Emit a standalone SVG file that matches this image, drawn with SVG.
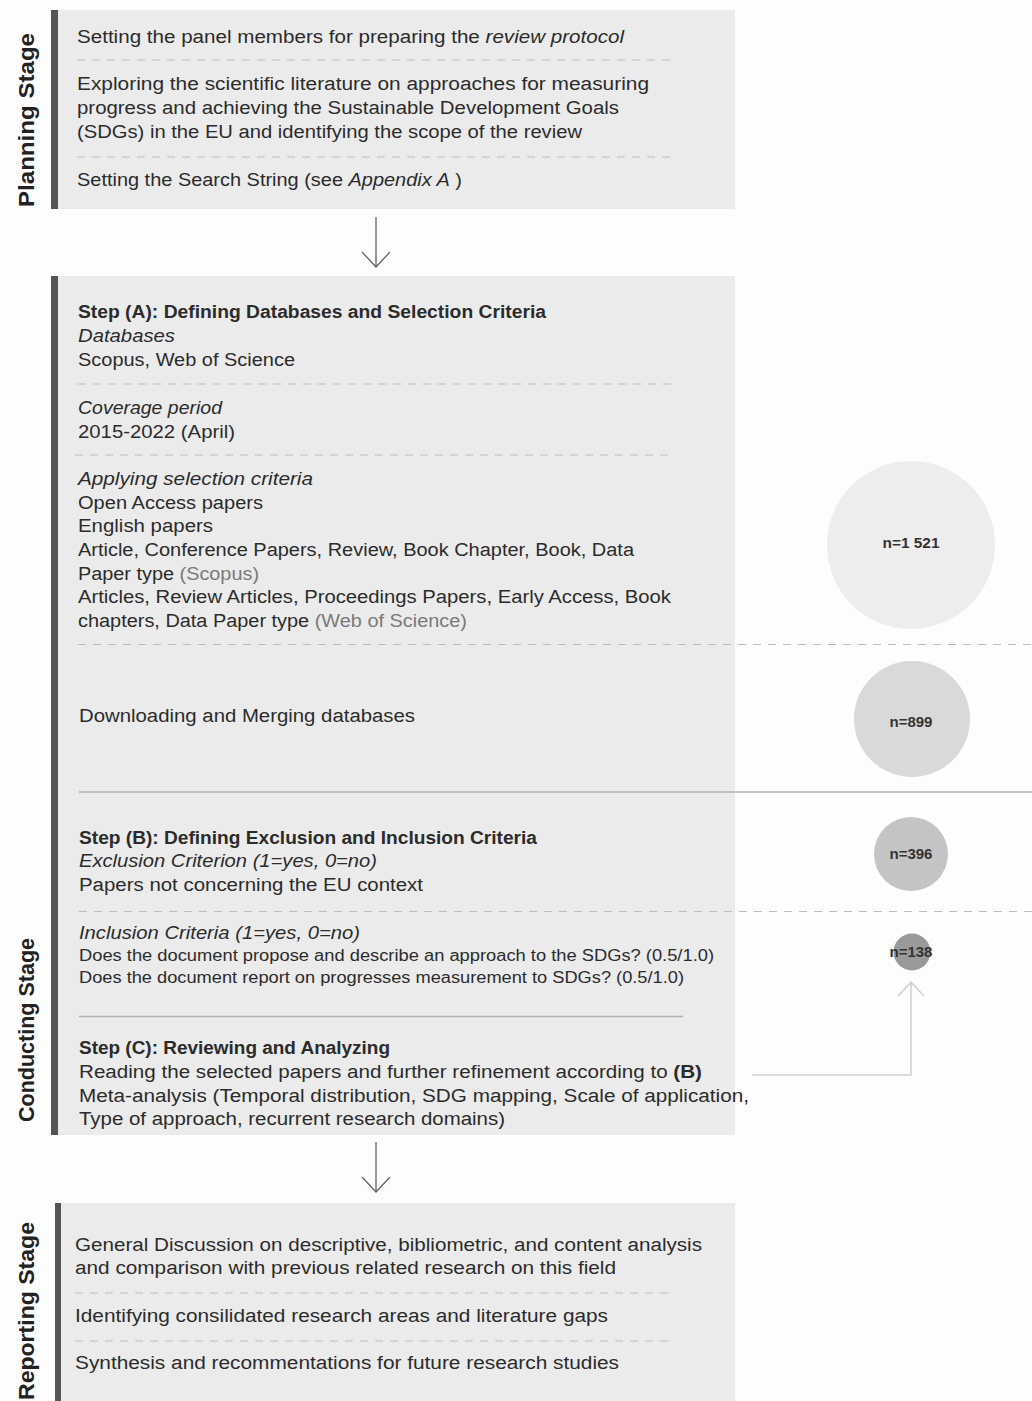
<svg xmlns="http://www.w3.org/2000/svg" width="1032" height="1401" viewBox="0 0 1032 1401">
<defs>
<style>
.bg{fill:#fdfdfd}
.box{fill:#ebebeb}
.bar{fill:#555555}
.t{font-family:"Liberation Sans",Arial,sans-serif;font-size:18px;fill:#2b2b2b}
.s{font-size:16px}
.b{font-weight:bold}
.i{font-style:italic}
.g{fill:#7a7a7a}
.lbl{font-family:"Liberation Sans",Arial,sans-serif;font-size:22px;font-weight:bold;fill:#222}
.dash{stroke:#bdbdbd;stroke-width:1.2;stroke-dasharray:8 7;fill:none}
.solid{stroke:#b0b0b0;stroke-width:1.5;fill:none}
.arr{stroke:#666;stroke-width:1.3;fill:none}
.conn{stroke:#cfcfcf;stroke-width:1.5;fill:none}
.n{font-family:"Liberation Sans",Arial,sans-serif;font-size:15px;font-weight:bold;fill:#333;text-anchor:middle}
</style>
</defs>
<rect class="bg" x="0" y="0" width="1032" height="1401"/>

<g id="planning">
<rect class="box" x="51" y="10" width="684" height="199"/>
<rect class="bar" x="51" y="10" width="7" height="199"/>
<text class="lbl" transform="translate(34,207) rotate(-90)" textLength="174" lengthAdjust="spacingAndGlyphs">Planning Stage</text>
<text class="t" x="77" y="43" textLength="547" lengthAdjust="spacingAndGlyphs">Setting the panel members for preparing the <tspan class="i">review protocol</tspan></text>
<line class="dash" x1="77" y1="60" x2="676" y2="60"/>
<text class="t" x="77" y="90" textLength="572" lengthAdjust="spacingAndGlyphs">Exploring the scientific literature on approaches for measuring</text>
<text class="t" x="77" y="114" textLength="542" lengthAdjust="spacingAndGlyphs">progress and achieving the Sustainable Development Goals</text>
<text class="t" x="77" y="138" textLength="505" lengthAdjust="spacingAndGlyphs">(SDGs) in the EU and identifying the scope of the review</text>
<line class="dash" x1="77" y1="157" x2="676" y2="157"/>
<text class="t" x="77" y="186" textLength="385" lengthAdjust="spacingAndGlyphs">Setting the Search String (see <tspan class="i">Appendix A</tspan> )</text>
</g>

<g id="conducting">
<rect class="box" x="51" y="276" width="684" height="859"/>
<rect class="bar" x="51" y="276" width="7" height="859"/>
<text class="lbl" transform="translate(34,1122) rotate(-90)" textLength="184" lengthAdjust="spacingAndGlyphs">Conducting Stage</text>
<text class="t b" x="78" y="318" textLength="468" lengthAdjust="spacingAndGlyphs">Step (A): Defining Databases and Selection Criteria</text>
<text class="t i" x="78" y="342" textLength="97" lengthAdjust="spacingAndGlyphs">Databases</text>
<text class="t" x="78" y="366" textLength="217" lengthAdjust="spacingAndGlyphs">Scopus, Web of Science</text>
<line class="dash" x1="78" y1="384" x2="677" y2="384"/>
<text class="t i" x="78" y="414" textLength="144" lengthAdjust="spacingAndGlyphs">Coverage period</text>
<text class="t" x="78" y="438" textLength="157" lengthAdjust="spacingAndGlyphs">2015-2022 (April)</text>
<line class="dash" x1="75" y1="455" x2="673" y2="455"/>
<text class="t i" x="78" y="485" textLength="235" lengthAdjust="spacingAndGlyphs">Applying selection criteria</text>
<text class="t" x="78" y="509" textLength="185" lengthAdjust="spacingAndGlyphs">Open Access papers</text>
<text class="t" x="78" y="532" textLength="135" lengthAdjust="spacingAndGlyphs">English papers</text>
<text class="t" x="78" y="556" textLength="556" lengthAdjust="spacingAndGlyphs">Article, Conference Papers, Review, Book Chapter, Book, Data</text>
<text class="t" x="78" y="580" textLength="181" lengthAdjust="spacingAndGlyphs">Paper type <tspan class="g">(Scopus)</tspan></text>
<text class="t" x="78" y="603" textLength="593" lengthAdjust="spacingAndGlyphs">Articles, Review Articles, Proceedings Papers, Early Access, Book</text>
<text class="t" x="78" y="627" textLength="389" lengthAdjust="spacingAndGlyphs">chapters, Data Paper type <tspan class="g">(Web of Science)</tspan></text>
<text class="t" x="79" y="722" textLength="336" lengthAdjust="spacingAndGlyphs">Downloading and Merging databases</text>
<text class="t b" x="79" y="844" textLength="458" lengthAdjust="spacingAndGlyphs">Step (B): Defining Exclusion and Inclusion Criteria</text>
<text class="t i" x="79" y="867" textLength="298" lengthAdjust="spacingAndGlyphs">Exclusion Criterion (1=yes, 0=no)</text>
<text class="t" x="79" y="891" textLength="344" lengthAdjust="spacingAndGlyphs">Papers not concerning the EU context</text>
<text class="t i" x="79" y="939" textLength="281" lengthAdjust="spacingAndGlyphs">Inclusion Criteria (1=yes, 0=no)</text>
<text class="t s" x="79" y="961" textLength="635" lengthAdjust="spacingAndGlyphs">Does the document propose and describe an approach to the SDGs?  (0.5/1.0)</text>
<text class="t s" x="79" y="983" textLength="605" lengthAdjust="spacingAndGlyphs">Does the document report on progresses measurement to SDGs? (0.5/1.0)</text>
<line class="solid" x1="79" y1="1016.500" x2="683" y2="1016.500"/>
<text class="t b" x="79" y="1054" textLength="311" lengthAdjust="spacingAndGlyphs">Step (C): Reviewing and Analyzing</text>
<text class="t" x="79" y="1078" textLength="623" lengthAdjust="spacingAndGlyphs">Reading the selected papers and further refinement according to <tspan class="b">(B)</tspan></text>
<text class="t" x="79" y="1102" textLength="670" lengthAdjust="spacingAndGlyphs">Meta-analysis (Temporal distribution, SDG mapping, Scale of application,</text>
<text class="t" x="79" y="1125" textLength="426" lengthAdjust="spacingAndGlyphs">Type of approach, recurrent research domains)</text>
</g>

<g id="reporting">
<rect class="box" x="55" y="1203" width="680" height="198"/>
<rect class="bar" x="55" y="1203" width="6" height="198"/>
<text class="lbl" transform="translate(34,1400) rotate(-90)" textLength="178" lengthAdjust="spacingAndGlyphs">Reporting Stage</text>
<text class="t" x="75" y="1251" textLength="627" lengthAdjust="spacingAndGlyphs">General Discussion on descriptive, bibliometric, and content analysis</text>
<text class="t" x="75" y="1274" textLength="541" lengthAdjust="spacingAndGlyphs">and comparison with previous related research on this field</text>
<line class="dash" x1="75" y1="1293" x2="675" y2="1293"/>
<text class="t" x="75" y="1322" textLength="533" lengthAdjust="spacingAndGlyphs">Identifying consilidated research areas and literature gaps</text>
<line class="dash" x1="75" y1="1341" x2="675" y2="1341"/>
<text class="t" x="75" y="1369" textLength="544" lengthAdjust="spacingAndGlyphs">Synthesis and recommentations for future research studies</text>
</g>

<g id="separators">
<line class="dash" x1="78" y1="644.500" x2="1032" y2="644.500"/>
<line class="solid" x1="79" y1="792" x2="1032" y2="792"/>
<line class="dash" x1="79" y1="911.500" x2="1032" y2="911.500"/>
</g>

<g id="n1521">
<circle cx="911" cy="545" r="84" fill="#ededed"/>
<text class="n" x="911" y="548" textLength="57" lengthAdjust="spacingAndGlyphs">n=1 521</text>
</g>
<g id="n899">
<circle cx="912" cy="719" r="58" fill="#d9d9d9"/>
<text class="n" x="911" y="727">n=899</text>
</g>
<g id="n396">
<circle cx="911" cy="854" r="37" fill="#c4c4c4"/>
<text class="n" x="911" y="859">n=396</text>
</g>
<g id="n138">
<circle cx="912" cy="952" r="18.500" fill="#9a9a9a"/>
<text class="n" x="911" y="957">n=138</text>
</g>

<g id="connectors">
<path class="arr" d="M376 217 V267 M362 252 L376 267 L390 252"/>
<path class="arr" d="M376 1142 V1192 M362 1177 L376 1192 L390 1177"/>
<path class="conn" d="M752 1075 H911 V982 M898 996 L911 982 L924 996"/>
</g>
</svg>
